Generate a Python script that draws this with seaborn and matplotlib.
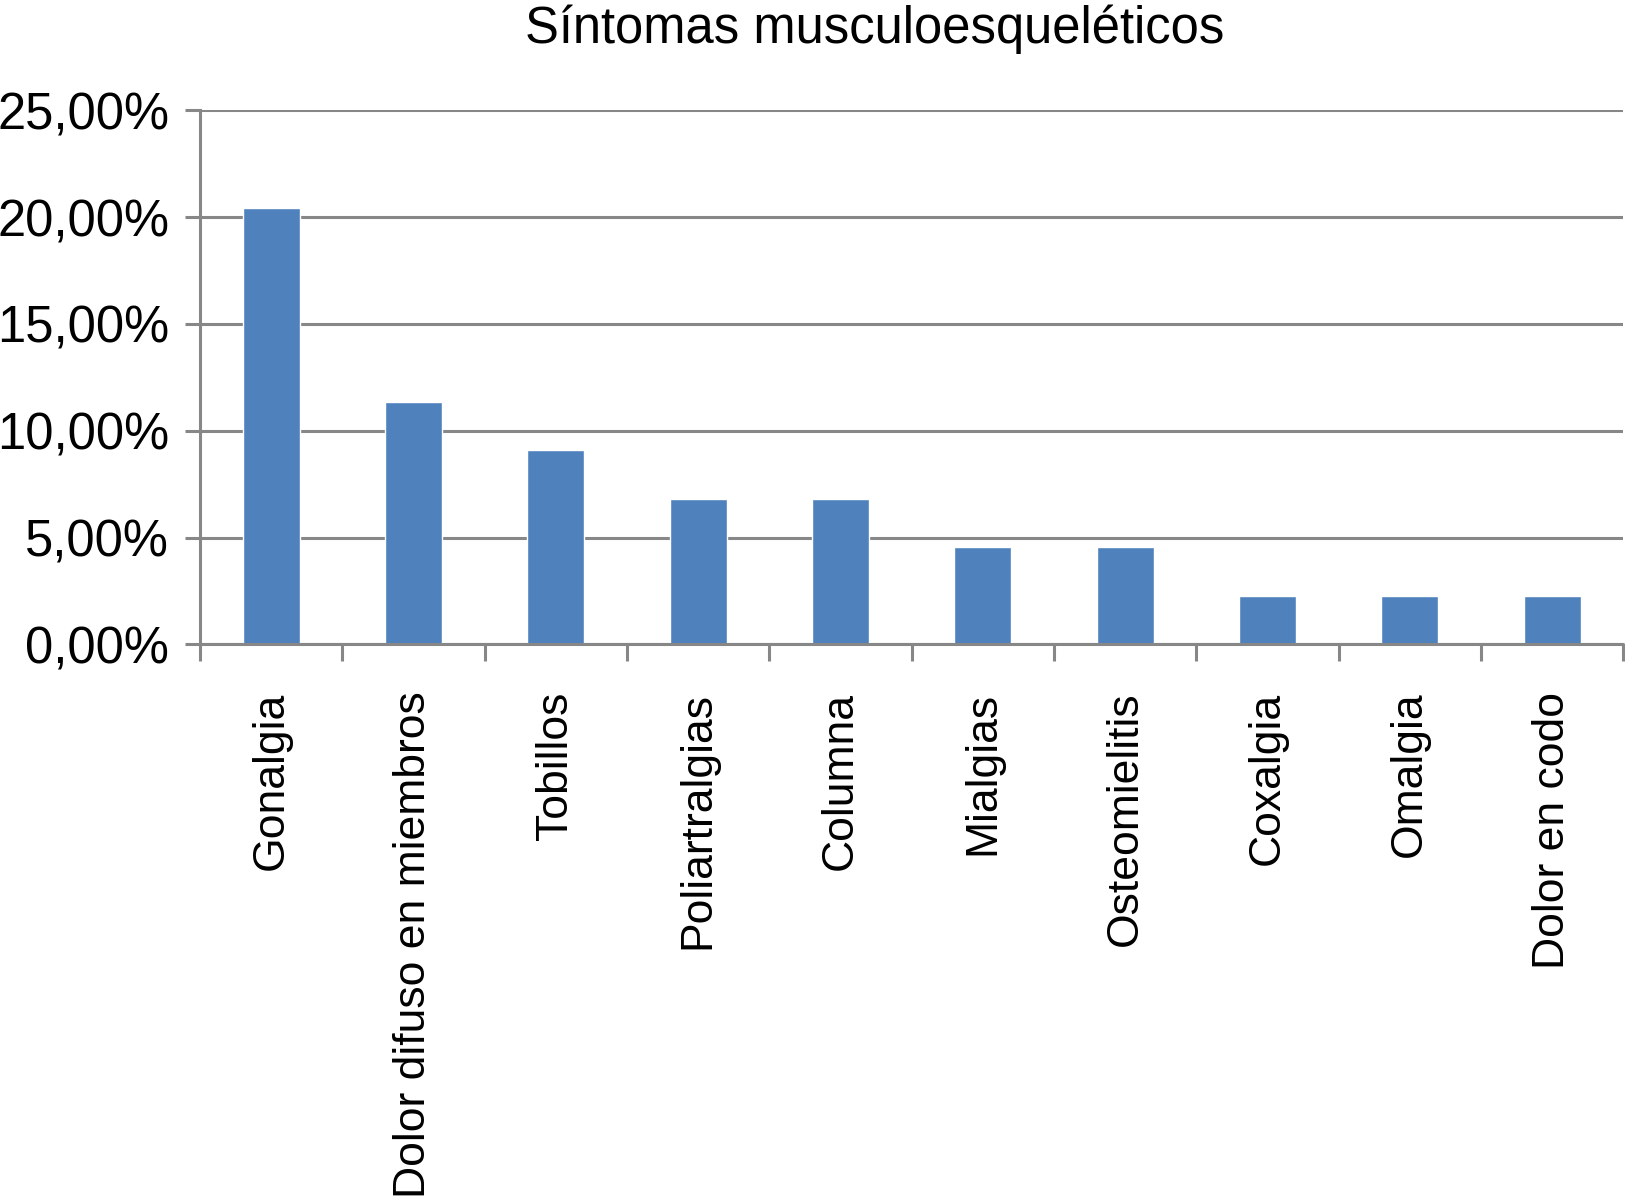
import matplotlib
matplotlib.use("Agg")
import matplotlib.pyplot as plt
import seaborn as sns
import numpy as np
import pandas as pd
from matplotlib.ticker import FixedLocator, FuncFormatter

categories = ["Gonalgia", "Dolor difuso en miembros", "Tobillos", "Poliartralgias",
              "Columna", "Mialgias", "Osteomielitis", "Coxalgia", "Omalgia", "Dolor en codo"]
values = [20.45, 11.36, 9.09, 6.82, 6.82, 4.55, 4.55, 2.27, 2.27, 2.27]
y_ticks = [0, 5, 10, 15, 20, 25]
title = "Síntomas musculoesqueléticos"

sns.set_theme(style="white")
plt.rcParams['font.family'] = ['Liberation Sans', 'DejaVu Sans']
plt.rcParams['text.color'] = 'black'

df = pd.DataFrame({"cat": categories, "val": values})

fig = plt.figure(figsize=(16.25, 12), dpi=100)
ax = fig.add_axes([0.123, 0.463, 0.876, 0.445])

grid_c = "#878787"
sns.barplot(data=df, x="cat", y="val", color="#4F81BD", width=0.4, ax=ax,
            saturation=1, zorder=3)

ax.set_ylim(0, 25)
ax.set_xlim(-0.5, len(categories) - 0.5)
ax.set_yticks(y_ticks)
ax.yaxis.set_major_formatter(FuncFormatter(lambda v, p: f"{v:.2f}".replace(".", ",") + "%"))
ax.grid(axis="y", color=grid_c, linewidth=2.2, zorder=0)
ax.set_axisbelow(True)

for s in ["top", "right", "bottom"]:
    ax.spines[s].set_visible(False)
ax.spines["left"].set_color(grid_c)
ax.spines["left"].set_linewidth(2.2)
ax.axhline(0, color=grid_c, linewidth=2.2, zorder=4, clip_on=False)

ax.tick_params(axis="y", which="major", length=11, width=2.2, color=grid_c,
               labelsize=36.5, pad=11, left=True, labelcolor="black")
ax.set_xticks(range(len(categories)))
ax.set_xticklabels(categories, rotation=90, fontsize=32, color="black")
ax.tick_params(axis="x", which="major", length=0, pad=34)
ax.xaxis.set_minor_locator(FixedLocator(np.arange(-0.5, len(categories), 1.0)))
ax.tick_params(axis="x", which="minor", length=12, width=2.2, color=grid_c, bottom=True)

ax.set_xlabel("")
ax.set_ylabel("")
fig.text(0.538, 0.976, title, ha="center", va="center", fontsize=36.5, color="black")

fig.savefig("out.png", dpi=100)
